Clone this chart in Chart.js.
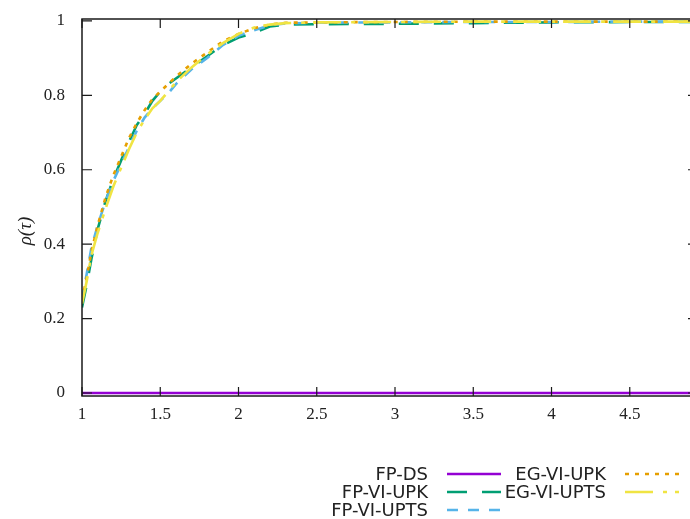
<!DOCTYPE html>
<html>
<head>
<meta charset="utf-8">
<script src="https://cdn.jsdelivr.net/npm/chart.js@4"></script>
<style>
  html, body { margin: 0; padding: 0; background: #fff; overflow: hidden; }
  canvas { display: block; }
</style>
</head>
<body>
<canvas id="profileChart" width="710" height="519"></canvas>
<script>
// performance profile data
const tau = [1, 1.03, 1.06, 1.1, 1.15, 1.2, 1.25, 1.3, 1.35, 1.4, 1.45, 1.5, 1.55, 1.6, 1.7, 1.8, 1.9, 2.0, 2.1, 2.2, 2.3, 2.5, 3.0, 3.5, 4.0, 4.5, 4.94];
const fpDS      = [0, 0, 0, 0, 0, 0, 0, 0, 0, 0, 0, 0, 0, 0, 0, 0, 0, 0, 0, 0, 0, 0, 0, 0, 0, 0, 0];
const fpVIUPK   = [0.23, 0.29, 0.36, 0.44, 0.515, 0.575, 0.625, 0.675, 0.72, 0.75, 0.785, 0.81, 0.83, 0.845, 0.875, 0.905, 0.935, 0.955, 0.968, 0.985, 0.99, 0.991, 0.992, 0.994, 0.996, 0.997, 0.997];
const fpVIUPTS  = [0.25, 0.32, 0.39, 0.45, 0.515, 0.57, 0.615, 0.66, 0.705, 0.74, 0.765, 0.785, 0.805, 0.83, 0.87, 0.90, 0.935, 0.96, 0.975, 0.988, 0.993, 0.995, 0.996, 0.997, 0.997, 0.998, 0.998];
const egVIUPK   = [0.25, 0.31, 0.38, 0.45, 0.525, 0.585, 0.635, 0.685, 0.725, 0.76, 0.79, 0.81, 0.83, 0.85, 0.885, 0.915, 0.945, 0.965, 0.98, 0.99, 0.995, 0.996, 0.997, 0.998, 0.998, 0.998, 0.998];
const egVIUPTS  = [0.24, 0.30, 0.37, 0.43, 0.495, 0.555, 0.605, 0.655, 0.70, 0.735, 0.765, 0.785, 0.81, 0.835, 0.875, 0.91, 0.94, 0.965, 0.982, 0.99, 0.994, 0.996, 0.997, 0.998, 0.998, 0.998, 0.998];

const xTicks = [1, 1.5, 2, 2.5, 3, 3.5, 4, 4.5];
const yTicks = [0, 0.2, 0.4, 0.6, 0.8, 1];
const yTitle = "ρ(τ)";

const series = [
  { label: "FP-DS",      values: fpDS,     color: "#9400d3", dash: [] },
  { label: "FP-VI-UPK",  values: fpVIUPK,  color: "#009e73", dash: [20, 15] },
  { label: "FP-VI-UPTS", values: fpVIUPTS, color: "#56b4e9", dash: [11, 10] },
  { label: "EG-VI-UPK",  values: egVIUPK,  color: "#e69f00", dash: [4, 6] },
  { label: "EG-VI-UPTS", values: egVIUPTS, color: "#f0e442", dash: [28, 10, 4, 8] }
];

// gnuplot style frame, inward ticks, y title and legend
const framePlugin = {
  id: "frame",
  afterDraw(chart) {
    const { ctx, chartArea: a, scales } = chart;
    ctx.save();
    ctx.strokeStyle = "#1a1a1a";
    ctx.lineWidth = 1.5;
    ctx.strokeRect(a.left, a.top, a.right - a.left, a.bottom - a.top);
    ctx.lineWidth = 1.2;
    ctx.beginPath();
    xTicks.forEach(v => {
      const px = scales.x.getPixelForValue(v);
      ctx.moveTo(px, a.bottom); ctx.lineTo(px, a.bottom - 9);
      ctx.moveTo(px, a.top); ctx.lineTo(px, a.top + 9);
    });
    yTicks.forEach(v => {
      const py = scales.y.getPixelForValue(v);
      ctx.moveTo(a.left, py); ctx.lineTo(a.left + 10, py);
      ctx.moveTo(a.right, py); ctx.lineTo(a.right - 10, py);
    });
    ctx.stroke();

    // y axis title
    ctx.save();
    ctx.translate(26, 231);
    ctx.rotate(-Math.PI / 2);
    ctx.font = "italic 19px 'Liberation Serif'";
    ctx.fillStyle = "#222";
    ctx.textAlign = "center";
    ctx.textBaseline = "middle";
    ctx.fillText(yTitle, 0, 0);
    ctx.restore();

    // legend, two columns
    ctx.font = "18px 'DejaVu Sans'";
    ctx.fillStyle = "#222";
    ctx.textAlign = "right";
    ctx.textBaseline = "middle";
    const cols = [{ text: 428, line: 447 }, { text: 606, line: 625 }];
    const rows = [474, 492, 510];
    series.forEach((s, i) => {
      const col = cols[Math.floor(i / 3)];
      const y = rows[i % 3];
      ctx.fillText(s.label, col.text, y + 1);
      ctx.strokeStyle = s.color;
      ctx.lineWidth = 2.6;
      ctx.setLineDash(s.dash);
      ctx.beginPath();
      ctx.moveTo(col.line, y);
      ctx.lineTo(col.line + 54, y);
      ctx.stroke();
      ctx.setLineDash([]);
    });
    ctx.restore();
  }
};

new Chart(document.getElementById("profileChart"), {
  type: "line",
  data: {
    datasets: series.map((s, i) => ({
      label: s.label,
      data: tau.map((t, j) => ({ x: t, y: s.values[j] })),
      borderColor: s.color,
      borderWidth: 2.6,
      borderDash: s.dash,
      pointRadius: 0,
      tension: 0,
      fill: false,
      order: series.length - i
    }))
  },
  options: {
    responsive: false,
    animation: false,
    layout: { padding: { top: 19, right: 12, left: 0, bottom: 0 } },
    plugins: { legend: { display: false }, tooltip: { enabled: false } },
    scales: {
      x: {
        type: "linear",
        min: 1,
        max: 4.936,
        afterBuildTicks: s => { s.ticks = xTicks.map(v => ({ value: v })); },
        afterFit: s => { s.height = 123; s.paddingLeft = 0; s.paddingRight = 0; },
        grid: { display: false, drawTicks: false },
        border: { display: false },
        ticks: {
          padding: 8,
          color: "#222",
          font: { family: "'Liberation Serif'", size: 17 },
          callback: v => String(v),
          maxRotation: 0
        }
      },
      y: {
        type: "linear",
        min: -0.008,
        max: 1.005,
        afterBuildTicks: s => { s.ticks = yTicks.map(v => ({ value: v })); },
        afterFit: s => { s.width = 82; s.paddingTop = 0; s.paddingBottom = 0; },
        grid: { display: false, drawTicks: false },
        border: { display: false },
        ticks: {
          padding: 17,
          color: "#222",
          font: { family: "'Liberation Serif'", size: 17 },
          callback: v => String(v)
        }
      }
    }
  },
  plugins: [framePlugin]
});
</script>
</body>
</html>
